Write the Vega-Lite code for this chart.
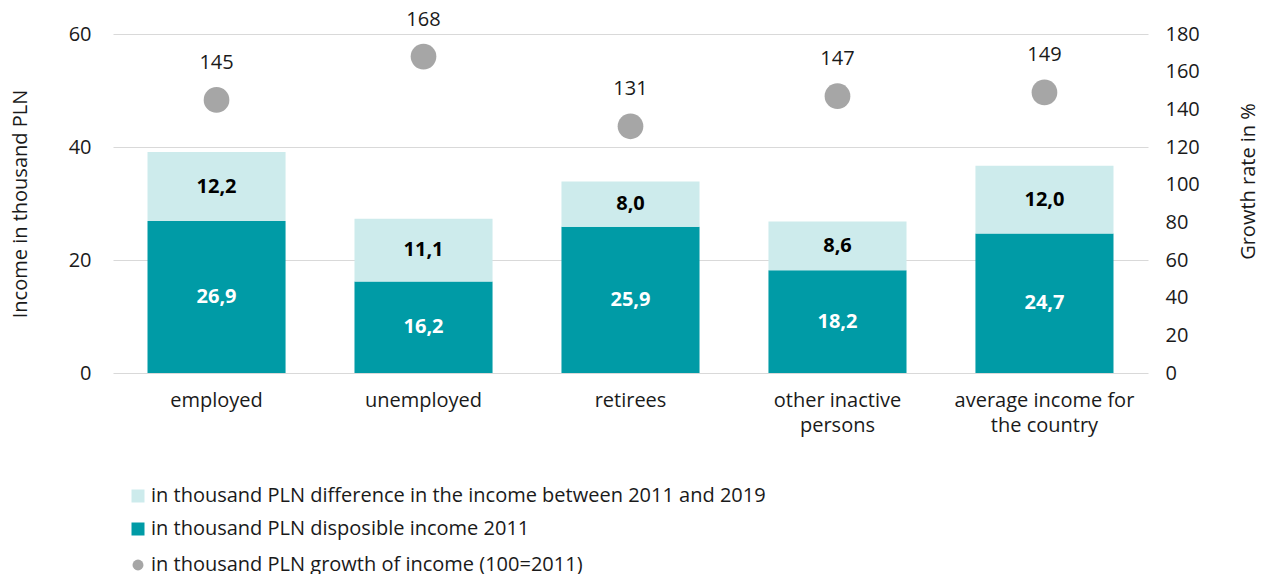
{
  "$schema": "https://vega.github.io/schema/vega-lite/v6.json",
  "width": 1035,
  "height": 339,
  "autosize": "none",
  "padding": {"left": 113, "top": 34, "right": 114, "bottom": 201},
  "background": "white",
  "config": {
    "font": "Open Sans",
    "view": {"stroke": null},
    "locale": {"number": {"decimal": ",", "thousands": " ", "grouping": [3], "currency": ["", " zł"]}},
    "axis": {"labelFontSize": 20, "titleFontSize": 20, "labelColor": "#1a1a1a", "titleColor": "#1a1a1a", "titleFontWeight": "normal", "domain": false, "ticks": false, "gridColor": "#d9d9d9", "labelOverlap": false},
    "legend": {"labelFontSize": 20, "labelColor": "#1a1a1a", "labelLimit": 800}
  },
  "datasets": {
    "bars": [
      {"category": "employed", "series": "in thousand PLN disposible income 2011", "value": 26.9},
      {"category": "employed", "series": "in thousand PLN difference in the income between 2011 and 2019", "value": 12.2},
      {"category": "unemployed", "series": "in thousand PLN disposible income 2011", "value": 16.2},
      {"category": "unemployed", "series": "in thousand PLN difference in the income between 2011 and 2019", "value": 11.1},
      {"category": "retirees", "series": "in thousand PLN disposible income 2011", "value": 25.9},
      {"category": "retirees", "series": "in thousand PLN difference in the income between 2011 and 2019", "value": 8.0},
      {"category": "other inactive persons", "series": "in thousand PLN disposible income 2011", "value": 18.2},
      {"category": "other inactive persons", "series": "in thousand PLN difference in the income between 2011 and 2019", "value": 8.6},
      {"category": "average income for the country", "series": "in thousand PLN disposible income 2011", "value": 24.7},
      {"category": "average income for the country", "series": "in thousand PLN difference in the income between 2011 and 2019", "value": 12.0}
    ],
    "growth": [
      {"category": "employed", "growth": 145},
      {"category": "unemployed", "growth": 168},
      {"category": "retirees", "growth": 131},
      {"category": "other inactive persons", "growth": 147},
      {"category": "average income for the country", "growth": 149}
    ]
  },
  "encoding": {
    "x": {
      "field": "category",
      "type": "nominal",
      "sort": ["employed", "unemployed", "retirees", "other inactive persons", "average income for the country"],
      "scale": {"paddingInner": 0.333, "paddingOuter": 0.1667},
      "axis": {
        "title": null,
        "labelAngle": 0,
        "labelPadding": 17,
        "labelLineHeight": 25,
        "labelExpr": "datum.label == 'other inactive persons' ? ['other inactive', 'persons'] : datum.label == 'average income for the country' ? ['average income for', 'the country'] : datum.label"
      }
    }
  },
  "layer": [
    {
      "data": {"name": "bars"},
      "transform": [
        {"stack": "value", "groupby": ["category"], "sort": [{"field": "series", "order": "descending"}], "as": ["v0", "v1"]},
        {"calculate": "(datum.v0 + datum.v1) / 2", "as": "mid"}
      ],
      "layer": [
        {
          "mark": {"type": "bar"},
          "encoding": {
            "y": {"field": "v0", "type": "quantitative", "scale": {"domain": [0, 60]}, "axis": {"title": "Income in thousand PLN", "values": [0, 20, 40, 60], "grid": true, "labelPadding": 22, "titlePadding": 38}},
            "y2": {"field": "v1"},
            "fill": {
              "field": "series",
              "type": "nominal",
              "scale": {"domain": ["in thousand PLN difference in the income between 2011 and 2019", "in thousand PLN disposible income 2011"], "range": ["#cdebec", "#009ba6"]},
              "legend": {"title": null, "orient": "none", "legendX": 15, "legendY": 452, "symbolType": "square", "symbolSize": 169, "symbolStrokeWidth": 0, "labelOffset": 3, "rowPadding": 13}
            }
          }
        },
        {
          "mark": {"type": "text", "fontSize": 20, "fontWeight": "bold"},
          "encoding": {
            "y": {"field": "mid", "type": "quantitative", "scale": {"domain": [0, 60]}, "axis": {"title": "Income in thousand PLN", "values": [0, 20, 40, 60], "grid": true, "labelPadding": 22, "titlePadding": 38}},
            "text": {"field": "value", "type": "quantitative", "format": ".1f"},
            "color": {"condition": {"test": "datum.series == 'in thousand PLN disposible income 2011'", "value": "white"}, "value": "black"}
          }
        }
      ]
    },
    {
      "data": {"name": "growth"},
      "layer": [
        {
          "mark": {"type": "point", "filled": true, "size": 660, "opacity": 1},
          "encoding": {
            "y": {"field": "growth", "type": "quantitative", "scale": {"domain": [0, 180]}, "axis": {"orient": "right", "title": "Growth rate in %", "titleAngle": 270, "titleY": 147, "values": [0, 20, 40, 60, 80, 100, 120, 140, 160, 180], "grid": false, "labelOverlap": false, "labelPadding": 17, "titlePadding": 59}},
            "color": {
              "datum": "in thousand PLN growth of income (100=2011)",
              "scale": {"range": ["#a6a6a6"]},
              "legend": {"title": null, "orient": "none", "legendX": 15, "legendY": 521, "symbolType": "circle", "symbolSize": 120, "labelOffset": 3}
            }
          }
        },
        {
          "mark": {"type": "text", "fontSize": 20, "dy": -37, "color": "#1a1a1a"},
          "encoding": {
            "y": {"field": "growth", "type": "quantitative", "scale": {"domain": [0, 180]}, "axis": {"orient": "right", "title": "Growth rate in %", "titleAngle": 270, "titleY": 147, "values": [0, 20, 40, 60, 80, 100, 120, 140, 160, 180], "grid": false, "labelOverlap": false, "labelPadding": 17, "titlePadding": 59}},
            "text": {"field": "growth", "type": "quantitative"}
          }
        }
      ]
    }
  ],
  "resolve": {"scale": {"y": "independent", "color": "independent"}}
}
